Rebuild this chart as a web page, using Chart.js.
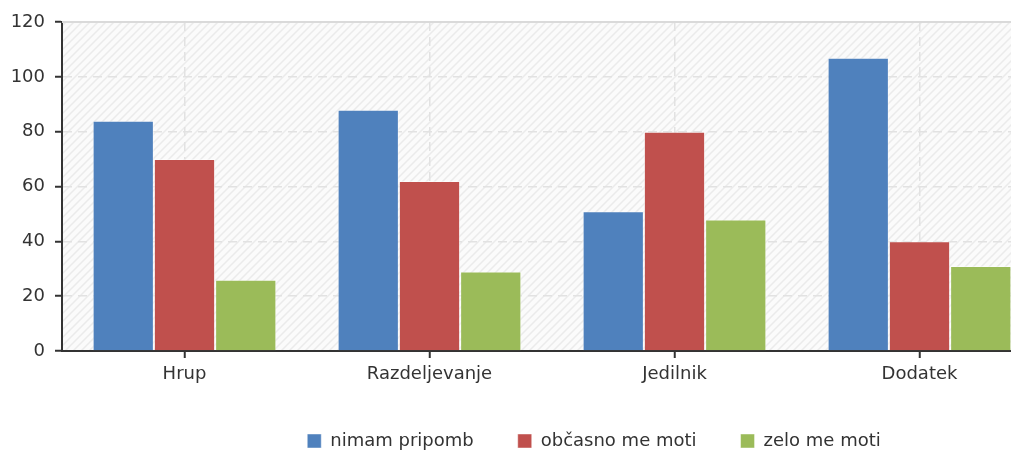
<!DOCTYPE html>
<html>
<head>
<meta charset="utf-8">
<script src="https://cdn.jsdelivr.net/npm/chart.js@4/dist/chart.umd.min.js"></script>
<style>
  html, body { margin: 0; padding: 0; background: #fff; overflow: hidden; }
  #wrap { width: 1188px; height: 460px; }
</style>
</head>
<body>
<div id="wrap"><canvas id="barChart" width="1188" height="460"></canvas></div>
<script>
const categories = ['Hrup', 'Razdeljevanje', 'Jedilnik', 'Dodatek'];
const seriesNames = ['nimam pripomb', 'občasno me moti', 'zelo me moti'];
const nimamPripomb = [84, 88, 51, 107];
const obcasnoMeMoti = [70, 62, 80, 40];
const zeloMeMoti = [26, 29, 48, 31];
const yTicks = [0, 20, 40, 60, 80, 100, 120];
const colors = ['#4f81bd', '#c0504d', '#9bbb59'];

const font = { family: 'DejaVu Sans', size: 18 };
const gridColor = '#e2e2e2';
const axisColor = '#333';

// small tile for the hatched plot background
function makeHatch() {
    const c = document.createElement('canvas');
    c.width = 8; c.height = 8;
    const g = c.getContext('2d');
    g.fillStyle = '#fbfbfb';
    g.fillRect(0, 0, 8, 8);
    g.strokeStyle = '#ebebeb';
    g.lineWidth = 1.5;
    g.beginPath();
    g.moveTo(0, 8); g.lineTo(8, 0);
    g.moveTo(-4, 4); g.lineTo(4, -4);
    g.moveTo(4, 12); g.lineTo(12, 4);
    g.stroke();
    return c;
}

const plotBackground = {
    id: 'plotBackground',
    beforeDraw(chart) {
        const { ctx, chartArea: a } = chart;
        ctx.save();
        ctx.fillStyle = ctx.createPattern(makeHatch(), 'repeat');
        ctx.fillRect(a.left, a.top, a.right - a.left, a.bottom - a.top);
        ctx.restore();
    },
    beforeDatasetsDraw(chart) {
        // solid top edge of the plot
        const { ctx, chartArea: a } = chart;
        ctx.save();
        ctx.strokeStyle = '#dadada';
        ctx.lineWidth = 2;
        ctx.beginPath();
        ctx.moveTo(a.left, a.top);
        ctx.lineTo(a.right, a.top);
        ctx.stroke();
        ctx.restore();
    }
};

const seriesData = [nimamPripomb, obcasnoMeMoti, zeloMeMoti];

new Chart(document.getElementById('barChart'), {
    type: 'bar',
    data: {
        labels: categories,
        datasets: seriesNames.map((name, i) => ({
            label: name,
            data: seriesData[i],
            backgroundColor: colors[i],
            borderColor: 'rgba(255,255,255,0.45)',
            borderWidth: 1,
            barPercentage: 1,
            categoryPercentage: 0.75
        }))
    },
    options: {
        responsive: false,
        animation: false,
        layout: { padding: { top: 22 } },
        plugins: {
            legend: {
                position: 'bottom',
                labels: { boxWidth: 14, boxHeight: 14, padding: 44, color: axisColor, font: font }
            },
            tooltip: { enabled: false }
        },
        scales: {
            x: {
                grid: { offset: false, color: gridColor, lineWidth: 1.5, tickColor: axisColor, tickLength: 7, tickWidth: 2 },
                border: { color: axisColor, width: 2, dash: [9, 6] },
                ticks: { color: axisColor, font: font, padding: 6, maxRotation: 0 },
                afterFit: s => { s.height = 37; }
            },
            y: {
                min: 0,
                max: 120,
                afterBuildTicks: s => { s.ticks = yTicks.map(v => ({ value: v })); },
                grid: {
                    color: c => (c.tick && (c.tick.value === 0 || c.tick.value === 120)) ? 'rgba(0,0,0,0)' : gridColor,
                    lineWidth: 1.5, tickColor: axisColor, tickLength: 7, tickWidth: 2
                },
                border: { color: axisColor, width: 2, dash: [9, 6] },
                ticks: { color: axisColor, font: font, padding: 10 },
                afterFit: s => { s.width = 62; }
            },
            // empty right axis so the plot runs past the window edge like the original
            spacer: {
                type: 'linear',
                position: 'right',
                grid: { display: false },
                border: { display: false },
                ticks: { display: false },
                afterFit: s => { s.width = 146; }
            }
        }
    },
    plugins: [plotBackground]
});
</script>
</body>
</html>
